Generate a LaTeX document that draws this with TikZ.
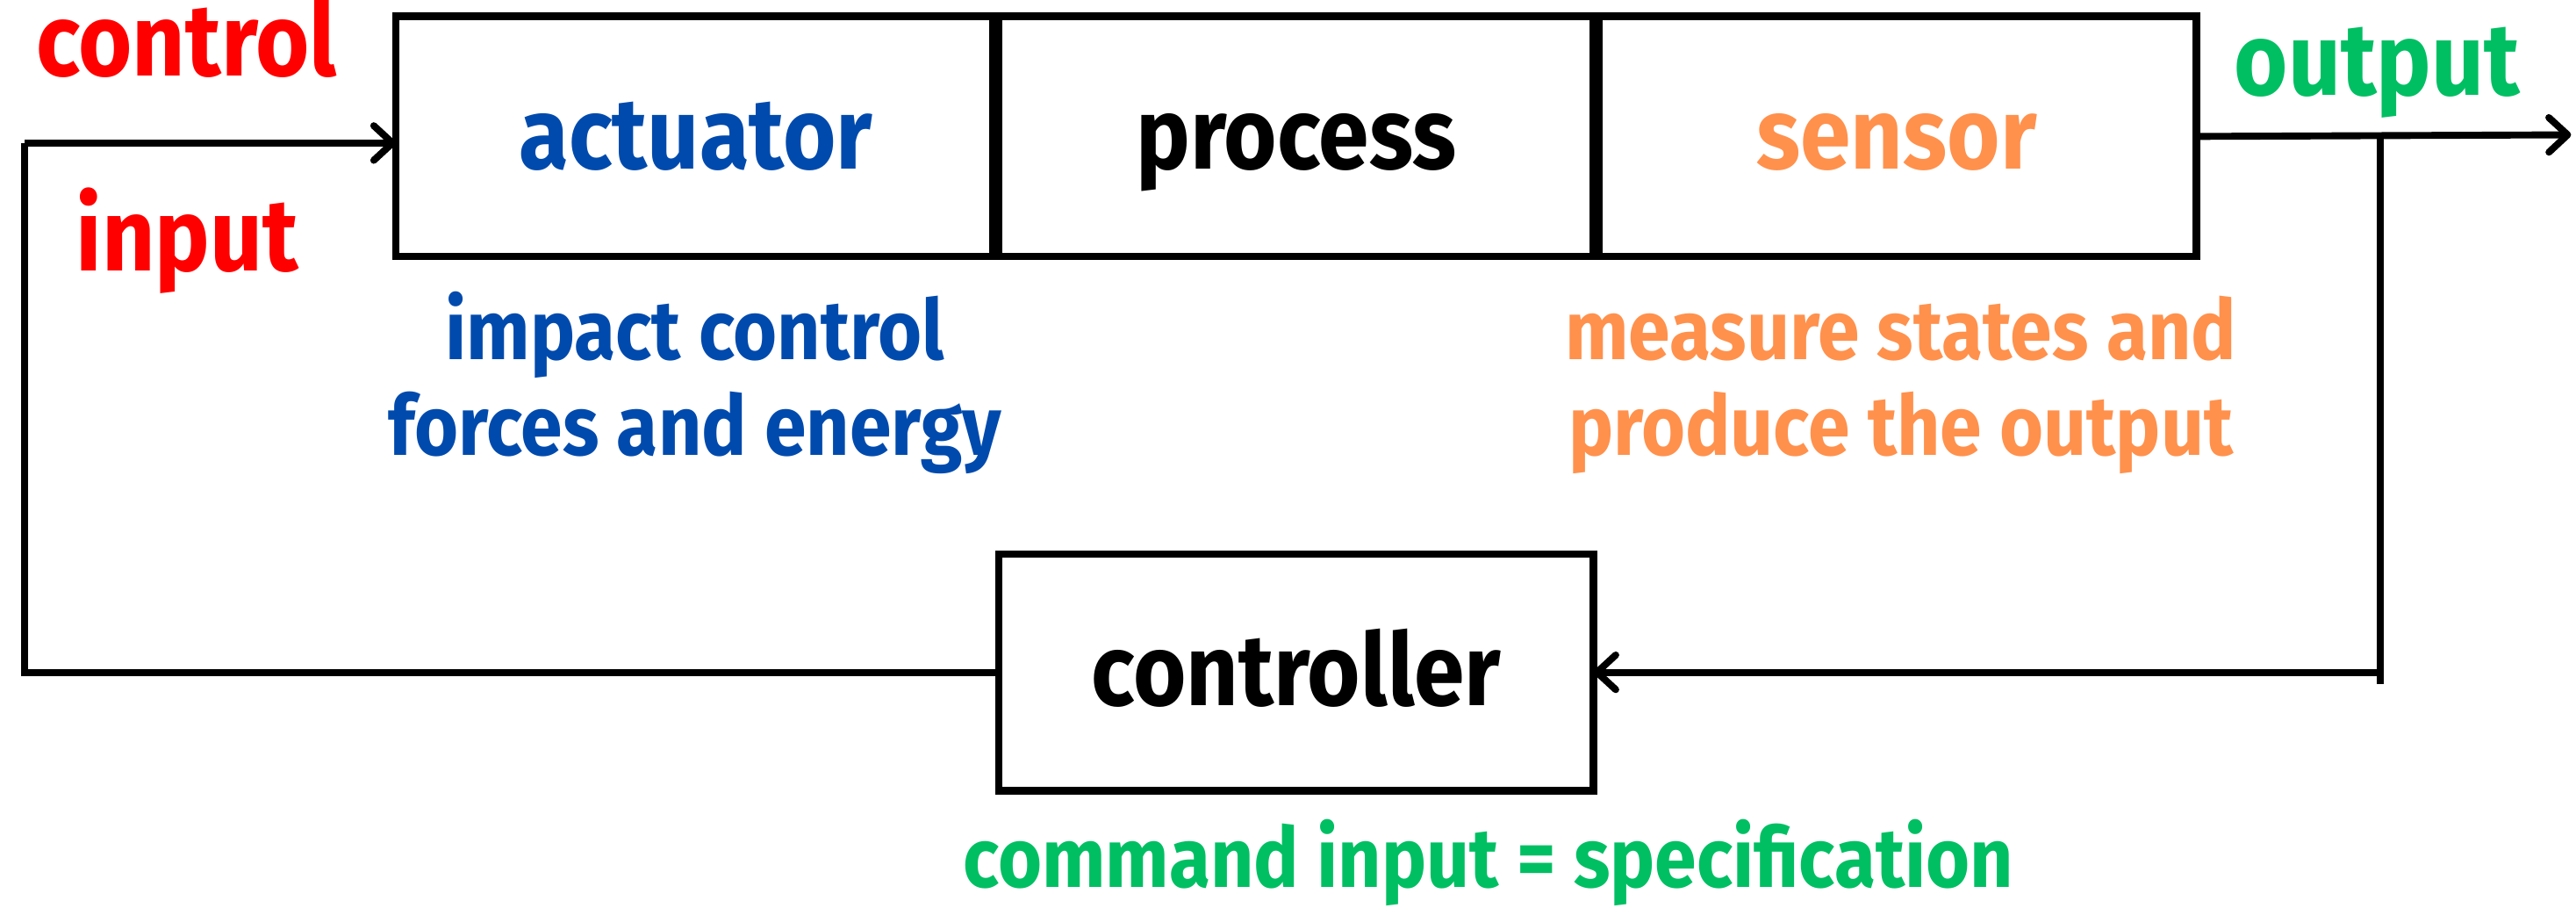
\documentclass[tikz,border=0pt]{standalone}
\usepackage{fontspec}
\usetikzlibrary{arrows.meta}
\newfontfamily\labelfont{Fira Sans}[FakeStretch=0.9]
\definecolor{cred}{HTML}{FF0000}
\definecolor{cblue}{HTML}{004AAD}
\definecolor{corange}{HTML}{FF914D}
\definecolor{cgreen}{HTML}{00BF63}

\begin{document}
\begin{tikzpicture}[x=0.02cm,y=-0.02cm,
  blockbox/.style={draw, line width=2.6pt, minimum width=7.3cm, minimum height=2.92cm,
    inner sep=0pt, outer sep=0pt,
    font=\labelfont\bfseries\fontsize{35}{40}\selectfont,
    text height=30pt, text depth=7.2pt},
  divider/.style={line width=4.6pt},
  maintext/.style={font=\labelfont\bfseries\fontsize{35.5}{40}\selectfont, inner sep=0pt, anchor=base},
  notetext/.style={font=\labelfont\bfseries\fontsize{29}{33}\selectfont, inner sep=0pt,
    align=center, anchor=base},
  wire/.style={line width=2.4pt},
  arrowed/.style={-{Straight Barb[length=6.5pt,width=12pt,line cap=round,line join=round]}}]

\useasboundingbox (0,0) rectangle (1568,552);

% forward path blocks
\node[blockbox, text=cblue] (act) at (423.5,83) {actuator};
\node[blockbox] (proc) at (789,83) {process};
\node[blockbox, text=corange] (sens) at (1154.5,83) {sensor};

% heavier shared walls between neighbouring blocks
\draw[divider] (act.north east) -- (act.south east);
\draw[divider] (proc.north east) -- (proc.south east);

% feedback block
\node[blockbox, minimum width=7.24cm, minimum height=2.88cm] (ctrl) at (789,409) {controller};

% corner and branch points of the loop
\coordinate (leftTop) at (15,87);
\coordinate (leftBot) at (15,409);
\coordinate (outEnd) at (1565,82);
\coordinate (tapTop) at (1449,83);
\coordinate (tapBot) at (1449,416);

% control input: controller back round to the actuator
\draw[wire] (ctrl.west) -- (ctrl.west -| leftBot) -- (leftTop);
\draw[wire, arrowed] (leftTop) -- (leftTop -| act.west);

% output and measured feedback
\draw[wire, arrowed] (sens.east) -- (outEnd);
\draw[wire] (tapTop) -- (tapBot);
\draw[wire, arrowed] (tapBot |- ctrl.east) -- (ctrl.east);

% labels
\node[maintext, text=cred] (ctlLbl) at (113.5,46) {control};
\node[maintext, text=cred] (inLbl) at (114,165) {input};
\node[maintext, text=cgreen] (outLbl) at (1447,58) {output};
\node[notetext, text=cblue] (actNote) at (423,277) {impact control\\forces and energy};
\node[notetext, text=corange] (sensNote) at (1157,277) {measure states and\\produce the output};
\node[notetext, text=cgreen] (cmdLbl) at (906,540) {command input = specification};
\end{tikzpicture}
\end{document}
